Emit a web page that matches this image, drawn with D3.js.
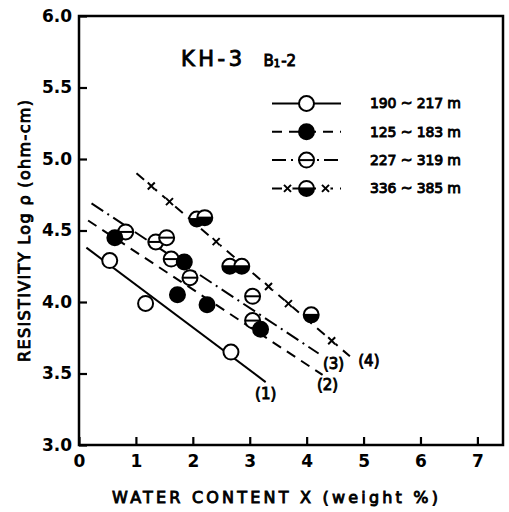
<!DOCTYPE html>
<html>
<head>
<meta charset="utf-8">
<script src="https://cdn.jsdelivr.net/npm/d3@7"></script>
<style>
  body { margin: 0; background: #fff; }
  svg { display: block; font-family: "DejaVu Sans", "Liberation Sans", sans-serif; }
  .med { stroke: #000; stroke-width: 0.9px; }
</style>
</head>
<body>
<div id="chart"></div>
<script>
// water content (weight %) vs log resistivity, borehole KH-3, B1-2
var seriesNames = ["190 ~ 217 m", "125 ~ 183 m", "227 ~ 319 m", "336 ~ 385 m"];

var open190 = [[0.54, 4.29], [1.17, 3.99], [2.67, 3.65]];
var filled125 = [[0.63, 4.45], [1.85, 4.28], [1.73, 4.05], [2.25, 3.98], [3.19, 3.81]];
var theta227 = [[0.82, 4.49], [1.35, 4.42], [1.54, 4.45], [1.62, 4.30], [1.95, 4.17], [3.05, 4.04], [3.05, 3.87]];
var half336 = [[2.07, 4.58], [2.21, 4.59], [2.65, 4.25], [2.86, 4.25], [4.08, 3.91]];

// fitted lines (1)..(4), end points
var fit1 = [[0.13, 4.38], [3.28, 3.44]];
var fit2 = [[0.16, 4.57], [4.28, 3.49]];
var fit3 = [[0.22, 4.69], [4.21, 3.64]];
var fit4 = [[1.01, 4.90], [4.76, 3.62]];
var fit4Crosses = [1.27, 1.59, 2.41, 3.33, 3.68, 4.44];

var xTicks = [0, 1, 2, 3, 4, 5, 6, 7];
var yTicks = [3.0, 3.5, 4.0, 4.5, 5.0, 5.5, 6.0];

var width = 509, height = 512;
var margin = {top: 16, right: 6, bottom: 67, left: 79};

var svg = d3.select("#chart").append("svg")
    .attr("width", width)
    .attr("height", height);

var x = d3.scaleLinear()
    .domain([0, 7.45])
    .range([margin.left, width - margin.right]);

var y = d3.scaleLinear()
    .domain([3, 6])
    .range([height - margin.bottom, margin.top]);

// axes with inward ticks
var yAxis = svg.append("g")
    .attr("transform", "translate(" + margin.left + ",0)")
    .call(d3.axisLeft(y).tickValues(yTicks).tickFormat(d3.format(".1f"))
      .tickSizeInner(-8).tickSizeOuter(0).tickPadding(7));

var xAxis = svg.append("g")
    .attr("transform", "translate(0," + (height - margin.bottom) + ")")
    .call(d3.axisBottom(x).tickValues(xTicks).tickFormat(d3.format("d"))
      .tickSizeInner(-8).tickSizeOuter(0).tickPadding(10));

[xAxis, yAxis].forEach(function(a) {
  a.select(".domain").remove();
  a.selectAll("line").attr("stroke", "#000").attr("stroke-width", 2.2);
  a.selectAll("text")
    .attr("fill", "#000")
    .attr("font-family", "DejaVu Sans")
    .attr("font-size", 17)
    .attr("font-weight", "bold");
});

// frame
svg.append("rect")
    .attr("x", x(0))
    .attr("y", y(6))
    .attr("width", x(7.45) - x(0))
    .attr("height", y(3) - y(6))
    .attr("fill", "none")
    .attr("stroke", "#000")
    .attr("stroke-width", 2.5);

// axis titles
svg.append("text")
    .attr("class", "med")
    .attr("x", 275)
    .attr("y", 503)
    .attr("text-anchor", "middle")
    .attr("font-size", 16)
    .attr("textLength", 326)
    .attr("lengthAdjust", "spacing")
    .text("WATER CONTENT X (weight %)");

svg.append("text")
    .attr("class", "med")
    .attr("transform", "translate(30,231) rotate(-90)")
    .attr("text-anchor", "middle")
    .attr("font-size", 16)
    .attr("textLength", 262)
    .attr("lengthAdjust", "spacing")
    .text("RESISTIVITY Log ρ (ohm-cm)");

// fitted lines
var styles = [
  {dash: null, labelDx: 0, labelDy: 12},
  {dash: "10,7", labelDx: 5, labelDy: 10},
  {dash: "14,5,2,5", labelDx: 15, labelDy: 10},
  {dash: "10,7", labelDx: 19, labelDy: 4}
];
var fits = [fit1, fit2, fit3, fit4];

var line = d3.line().x(function(d) { return x(d[0]); }).y(function(d) { return y(d[1]); });

var fitG = svg.append("g");
fits.forEach(function(f, i) {
  fitG.append("path")
      .attr("d", line(f))
      .attr("fill", "none")
      .attr("stroke", "#000")
      .attr("stroke-width", 2)
      .attr("stroke-dasharray", styles[i].dash);
  fitG.append("text")
      .attr("class", "med")
      .attr("x", x(f[1][0]) + styles[i].labelDx)
      .attr("y", y(f[1][1]) + styles[i].labelDy)
      .attr("dy", "0.35em")
      .attr("text-anchor", "middle")
      .attr("font-size", 15)
      .text("(" + (i + 1) + ")");
});

function cross(g, cx, cy) {
  g.append("circle").attr("cx", cx).attr("cy", cy).attr("r", 5).attr("fill", "#fff");
  g.append("path")
      .attr("d", "M" + (cx - 3.5) + "," + (cy - 3.5) + "L" + (cx + 3.5) + "," + (cy + 3.5) +
                 "M" + (cx - 3.5) + "," + (cy + 3.5) + "L" + (cx + 3.5) + "," + (cy - 3.5))
      .attr("stroke", "#000")
      .attr("stroke-width", 2);
}

// crosses sit on line (4)
var f4 = d3.scaleLinear().domain([fit4[0][0], fit4[1][0]]).range([fit4[0][1], fit4[1][1]]);
fit4Crosses.forEach(function(v) { cross(fitG, x(v), y(f4(v))); });

// markers
var R = 7.5;
function marker(g, type, cx, cy) {
  g.append("circle")
      .attr("cx", cx).attr("cy", cy).attr("r", R)
      .attr("fill", type === "filled" ? "#000" : "#fff")
      .attr("stroke", "#000")
      .attr("stroke-width", 2);
  if (type === "half") {
    g.append("path")
        .attr("d", "M" + (cx - R) + "," + cy + "A" + R + "," + R + " 0 0 0 " + (cx + R) + "," + cy + "Z")
        .attr("fill", "#000");
  }
  if (type === "theta" || type === "half") {
    g.append("line")
        .attr("x1", cx - R).attr("x2", cx + R)
        .attr("y1", cy).attr("y2", cy)
        .attr("stroke", "#000").attr("stroke-width", 2);
  }
}

var types = ["open", "filled", "theta", "half"];
var sets = [open190, filled125, theta227, half336];
var ptG = svg.append("g");
[2, 1, 0, 3].forEach(function(i) {
  sets[i].forEach(function(d) { marker(ptG, types[i], x(d[0]), y(d[1])); });
});

// title
var title = svg.append("text")
    .attr("class", "med")
    .attr("x", 181)
    .attr("y", 66);
title.append("tspan").attr("font-size", 21).attr("letter-spacing", 3.5).text("KH-3");
title.append("tspan").attr("dx", 18).attr("font-size", 15).text("B");
title.append("tspan").attr("font-size", 10).attr("dy", 1).text("1");
title.append("tspan").attr("font-size", 15).attr("dy", -1).attr("dx", 1).text("-2");

// legend
var legend = svg.append("g");
var lx0 = 272, lx1 = 341, lmid = 306.5;
seriesNames.forEach(function(name, i) {
  var ly = 103.5 + i * 28.3;
  legend.append("line")
      .attr("x1", lx0).attr("x2", lx1)
      .attr("y1", ly).attr("y2", ly)
      .attr("stroke", "#000")
      .attr("stroke-width", 2)
      .attr("stroke-dasharray", styles[i].dash);
  if (i === 3) {
    cross(legend, lmid - 19, ly);
    cross(legend, lmid + 19, ly);
  }
  marker(legend, types[i], lmid, ly);
  legend.append("text")
      .attr("class", "med")
      .attr("x", 370)
      .attr("y", ly)
      .attr("dy", "0.35em")
      .attr("font-size", 14)
      .attr("textLength", 91)
      .attr("lengthAdjust", "spacing")
      .text(name);
});
</script>
</body>
</html>
